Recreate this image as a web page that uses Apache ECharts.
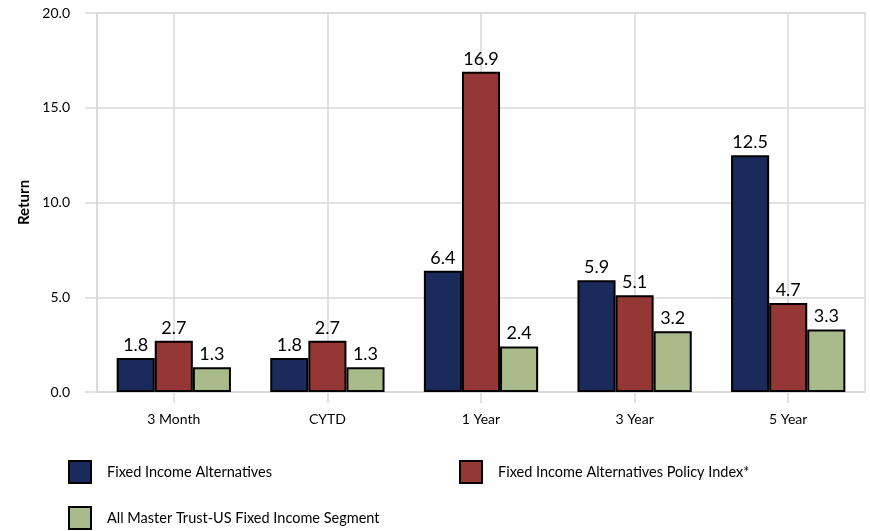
<!DOCTYPE html>
<html><head><meta charset="utf-8">
<script src="https://cdn.jsdelivr.net/npm/echarts@6/dist/echarts.min.js"></script>
<style>html,body{margin:0;padding:0;background:#fff}#c{width:870px;height:531px}</style>
</head><body><div id="c"></div>
<script>
var categories = ['3 Month', 'CYTD', '1 Year', '3 Year', '5 Year'];
var seriesNames = ['Fixed Income Alternatives', 'Fixed Income Alternatives Policy Index*', 'All Master Trust-US Fixed Income Segment'];
var fixedIncomeAlt = [1.8, 1.8, 6.4, 5.9, 12.5];
var policyIndex = [2.7, 2.7, 16.9, 5.1, 4.7];
var masterTrust = [1.3, 1.3, 2.4, 3.2, 3.3];
var yTicks = [0, 5, 10, 15, 20];
var colors = ['#1a2a5b', '#953735', '#a9ba8b'];

var FONT = 'Lato';
var chart = echarts.init(document.getElementById('c'), null, {renderer: 'canvas'});
function mk(name, data, color) {
  return {
    name: name, type: 'bar', data: data, barGap: '0%', barCategoryGap: '25.6%',
    itemStyle: {color: color, borderColor: '#000', borderWidth: 2},
    label: {show: true, position: 'top', distance: 4, fontFamily: FONT, fontSize: 18, color: '#000',
      formatter: function (p) { return p.value.toFixed(1); }}
  };
}
var legendText = {fontFamily: FONT, fontSize: 14.5, color: '#000', padding: [0, 0, 0, 11]};
var legendBase = {itemWidth: 22, itemHeight: 22, icon: 'rect', padding: 0, textStyle: legendText,
  orient: 'horizontal', selectedMode: false, itemStyle: {borderColor: '#000', borderWidth: 2}};
chart.setOption({
  animation: false,
  grid: {left: 97, right: 5, top: 13, bottom: 139, show: true, borderColor: '#d9d9d9', borderWidth: 1.5},
  legend: [
    Object.assign({data: [seriesNames[0]], left: 68, top: 460}, legendBase),
    Object.assign({data: [seriesNames[1]], left: 459, top: 460}, legendBase),
    Object.assign({data: [seriesNames[2]], left: 68, top: 506}, legendBase)
  ],
  xAxis: {
    type: 'category', data: categories,
    axisLine: {lineStyle: {color: '#d9d9d9', width: 1.5}},
    axisTick: {show: true, alignWithLabel: true, length: 11, lineStyle: {color: '#d9d9d9', width: 1.5}},
    splitLine: {show: true, alignWithLabel: true, lineStyle: {color: '#d9d9d9', width: 1.5}},
    axisLabel: {fontFamily: FONT, fontSize: 14, color: '#000', margin: 20}
  },
  yAxis: {
    type: 'value', min: yTicks[0], max: yTicks[yTicks.length - 1], interval: 5,
    name: 'Return', nameLocation: 'middle', nameRotate: 90, nameGap: 64,
    nameTextStyle: {fontFamily: FONT, fontSize: 15, fontWeight: 'bold', color: '#000'},
    axisLine: {show: true, lineStyle: {color: '#d9d9d9', width: 1.5}},
    axisTick: {show: true, length: 12, lineStyle: {color: '#d9d9d9', width: 1.5}},
    splitLine: {show: true, lineStyle: {color: '#d9d9d9', width: 1.5}},
    axisLabel: {fontFamily: FONT, fontSize: 14, color: '#000', margin: 27,
      formatter: function (v) { return v.toFixed(1); }}
  },
  series: [
    mk(seriesNames[0], fixedIncomeAlt, colors[0]),
    mk(seriesNames[1], policyIndex, colors[1]),
    mk(seriesNames[2], masterTrust, colors[2])
  ]
});
</script></body></html>
